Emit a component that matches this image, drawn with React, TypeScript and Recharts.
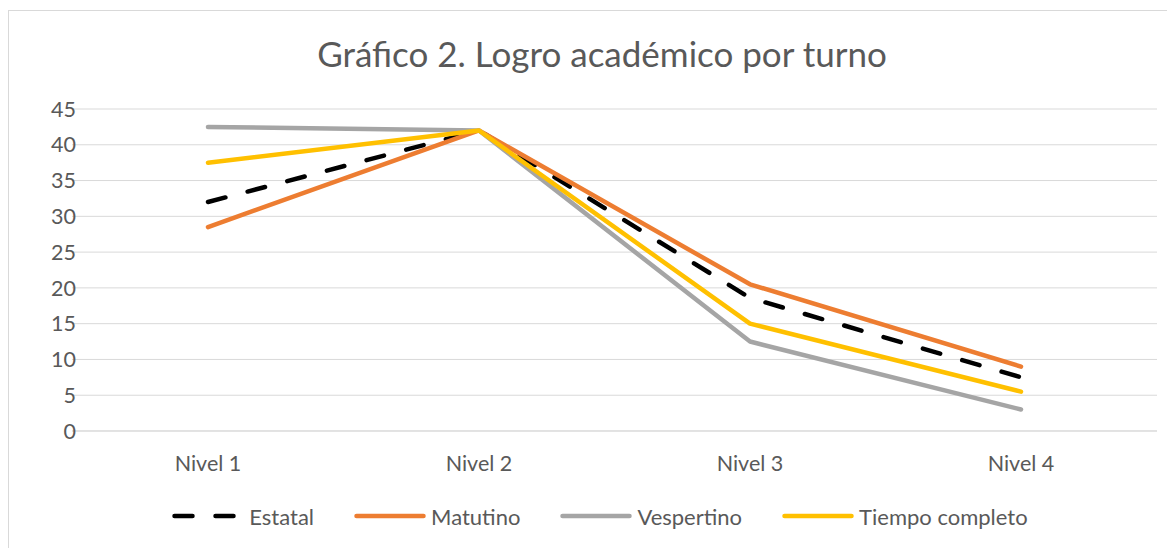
import React from 'react';
import { LineChart, Line, XAxis, YAxis, CartesianGrid, Legend } from 'recharts';

const categories = ['Nivel 1', 'Nivel 2', 'Nivel 3', 'Nivel 4'];
const estatal = [32, 42, 18.6, 7.5];
const matutino = [28.5, 42, 20.5, 9];
const vespertino = [42.5, 42, 12.5, 3];
const tiempoCompleto = [37.5, 42, 15, 5.5];
const yTicks = [0, 5, 10, 15, 20, 25, 30, 35, 40, 45];

const seriesList = [
  { key: 'estatal', name: 'Estatal', values: estatal, color: '#000000', dash: '18 23' },
  { key: 'matutino', name: 'Matutino', values: matutino, color: '#ED7D31', dash: undefined },
  { key: 'vespertino', name: 'Vespertino', values: vespertino, color: '#A5A5A5', dash: undefined },
  { key: 'tiempo', name: 'Tiempo completo', values: tiempoCompleto, color: '#FFC000', dash: undefined },
];

const data = categories.map((c, i) => {
  const row: Record<string, string | number> = { name: c };
  seriesList.forEach((s) => {
    row[s.key] = s.values[i];
  });
  return row;
});

const FONT = 'Lato, "Open Sans", sans-serif';
const TEXT = '#595959';

const LegendContent = () => (
  <div style={{ display: 'flex', justifyContent: 'center', alignItems: 'center', height: 30, fontFamily: FONT, fontSize: 22, color: TEXT, paddingLeft: 34 }}>
    {seriesList.map((s, i) => (
      <div key={s.key} style={{ display: 'flex', alignItems: 'center', marginLeft: i === 0 ? 0 : 40 }}>
        <svg width={72} height={10} style={{ display: 'block' }}>
          <line x1={2.5} y1={5} x2={69.5} y2={5} stroke={s.color} strokeWidth={4.5} strokeLinecap="round" strokeDasharray={s.dash} />
        </svg>
        <span style={{ marginLeft: 5 }}>{s.name}</span>
      </div>
    ))}
  </div>
);

export default function App() {
  return (
    <div style={{ position: 'relative', marginTop: 2, width: 1167, height: 538, borderLeft: '1px solid #d9d9d9', borderTop: '1px solid #d9d9d9', boxSizing: 'border-box' }}>
      <div style={{ position: 'absolute', left: 0, width: 1186, top: 22, textAlign: 'center', fontFamily: FONT, fontSize: 35, color: TEXT, lineHeight: '40px' }}>
        Gráfico 2. Logro académico por turno
      </div>
      <LineChart width={1166} height={537} data={data} margin={{ top: 98, right: 18, left: 0, bottom: 17 }}>
        <CartesianGrid horizontal vertical={false} stroke="#d9d9d9" strokeWidth={1} />
        <XAxis
          dataKey="name"
          height={70}
          padding={{ left: 136, right: 136 }}
          axisLine={{ stroke: '#d9d9d9' }}
          tickLine={false}
          tickMargin={19}
          tick={{ fill: TEXT, fontSize: 21.5, fontFamily: FONT }}
        />
        <YAxis
          width={63}
          domain={[0, 45]}
          ticks={yTicks}
          interval={0}
          axisLine={false}
          tickLine={false}
          tickSize={6}
          tickMargin={3}
          tick={{ fill: TEXT, fontSize: 21.5, fontFamily: FONT, dx: 13 }}
        />
        <Legend verticalAlign="bottom" align="center" content={<LegendContent />} />
        {seriesList.map((s) => (
          <Line
            key={s.key}
            type="linear"
            dataKey={s.key}
            name={s.name}
            stroke={s.color}
            strokeWidth={4.5}
            strokeDasharray={s.dash}
            strokeLinecap="round"
            strokeLinejoin="round"
            dot={false}
            activeDot={false}
            isAnimationActive={false}
          />
        ))}
      </LineChart>
    </div>
  );
}
